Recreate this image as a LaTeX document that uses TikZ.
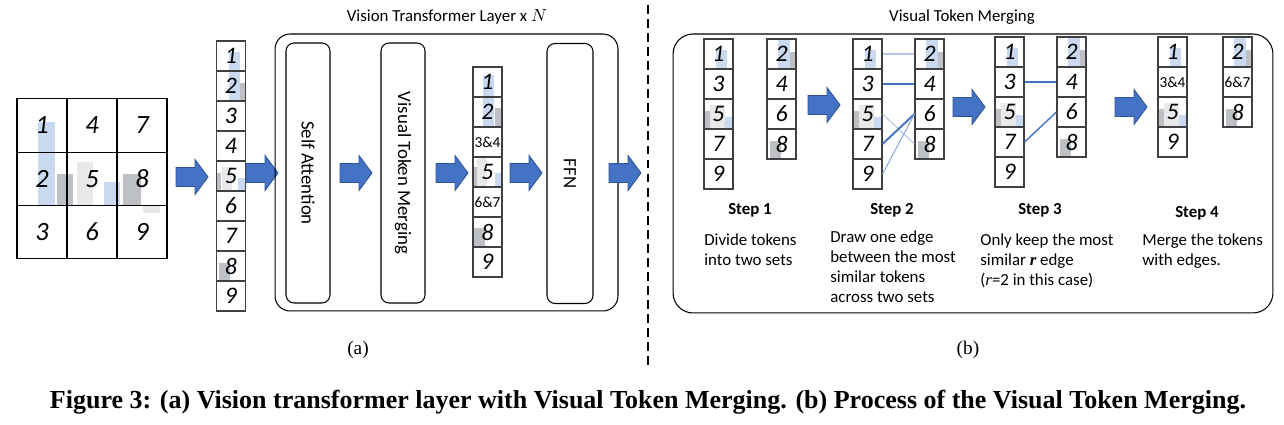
\documentclass[tikz,border=0pt]{standalone}
\usepackage{fontspec}
\setmainfont{Carlito}
\newfontfamily\capfont{Liberation Serif}
\usetikzlibrary{positioning}

\definecolor{arrblue}{HTML}{4472C4}
\definecolor{arrdark}{HTML}{2F5597}
\definecolor{barblue}{HTML}{C9D9F0}
\definecolor{bargrey}{HTML}{BDC1C5}
\definecolor{barlight}{HTML}{E9E9E9}
\definecolor{edgefaint}{HTML}{B4C7E7}
\definecolor{edgethin}{HTML}{8FAADC}

\newcommand\mrg[1]{{\upshape\fontsize{8.7}{9}\selectfont #1}}
% one column of tokens: name, x, y of first cell, labels
\newcommand\tokcol[4]{%
  \foreach \t [count=\i] in {#4}
    \node[tok] (#1\i) at (#2, #3+30*\i-30) {\t};
}

\tikzset{
  tok/.style={draw=black!75, line width=0.6pt, minimum width=0.58cm, minimum height=0.6cm,
    inner sep=0pt, font=\fontsize{13.5}{14}\selectfont\itshape},
  patch/.style={draw, line width=0.6pt, minimum width=1cm, minimum height=1.067cm,
    inner sep=0pt, font=\fontsize{15}{15}\selectfont\itshape},
  layerbox/.style={draw, line width=0.6pt, rounded corners=0.16cm, minimum height=5.2cm,
    inner sep=0pt},
  boxlabel/.style={rotate=-90, font=\fontsize{10.7}{12}\selectfont},
  title/.style={font=\fontsize{9.6}{11}\selectfont},
  steplabel/.style={font=\bfseries\fontsize{9.6}{11}\selectfont},
  steptext/.style={anchor=north west, align=left, inner sep=0pt, font=\fontsize{9.6}{11.4}\selectfont},
  edgebold/.style={draw=arrblue, line width=1.1pt},
  edgefaint/.style={draw=edgefaint, line width=0.6pt},
  edgethin/.style={draw=edgethin, line width=0.6pt},
  blockarrow/.pic={
    \filldraw[fill=arrblue, draw=arrdark, line width=0.5pt]
      (-16,-9.5) -- (3,-9.5) -- (3,-17.5) -- (16,0) -- (3,17.5) -- (3,9.5) -- (-16,9.5) -- cycle;
  },
  % chart remains behind the odd column (1 on top, 5 in third cell)
  leftshade/.pic={
    \fill[barblue] (12,11) rectangle (23,29);
    \fill[barlight] (6,66) rectangle (21,89);
    \fill[bargrey] (0,72) rectangle (6,89);
    \fill[barblue] (21,78) rectangle (29,89);
  },
  % chart remains behind the even column, #1 = cell of the 8
  rightshade/.pic={
    \fill[barblue] (11,0) rectangle (23,29);
    \fill[bargrey] (23,13) rectangle (29,29);
    \fill[bargrey] (3,30*#1+12) rectangle (14,30*#1+29);
  }
}

\begin{document}
\begin{tikzpicture}[x=0.02cm, y=-0.02cm]
\useasboundingbox (0,0) rectangle (1284,425);

% image patches (chart seen behind them)
\fill[barblue] (38,122) rectangle (55,206);
\fill[bargrey] (57,174) rectangle (73,206);
\fill[barlight] (77,162) rectangle (93,206);
\fill[barblue] (104,182) rectangle (120,206);
\fill[bargrey] (123,174) rectangle (141,206);
\fill[barlight] (143,206) rectangle (160,213);
\foreach \n in {1,...,9}{
  \pgfmathtruncatemacro{\cc}{(\n-1)/3}
  \pgfmathtruncatemacro{\rr}{mod(\n-1,3)}
  \node[patch] (p\n) at (42+50*\cc, 125.5+53.3*\rr) {\n};
}
\pic at (192,177) {blockarrow};

% flattened tokens
\fill[barblue] (229,52) rectangle (240,100);
\fill[bargrey] (240,83) rectangle (245,100);
\fill[bargrey] (217,173) rectangle (221,191);
\fill[barlight] (222,167) rectangle (232,191);
\fill[barblue] (238,178) rectangle (245,191);
\fill[bargrey] (219,263) rectangle (230,282);
\tokcol{v}{231}{56}{1,2,3,4,5,6,7,8,9}
\pic at (262,173) {blockarrow};

% (a) vision transformer layer
\node[title] (ta) at (447,17) {Vision Transformer Layer x $N$};
\node[draw, line width=0.6pt, rounded corners=0.3cm, minimum width=6.86cm, minimum height=5.54cm]
  (layer) at (446.5,172.5) {};
\node[layerbox, minimum width=0.88cm] (sa) at (308,173) {};
\node[boxlabel] at (sa) {Self Attention};
\pic at (356,173) {blockarrow};
\node[layerbox, minimum width=0.88cm] (vtm) at (403,173) {};
\node[boxlabel] at (vtm) {Visual Token Merging};
\pic at (452,173) {blockarrow};
\fill[barblue] (483,75) rectangle (494,127);
\fill[bargrey] (495,108) rectangle (502,127);
\fill[barlight] (477,158) rectangle (487,187);
\fill[bargrey] (473,167) rectangle (477,187);
\fill[barblue] (495,173) rectangle (502,187);
\fill[bargrey] (474,228) rectangle (485,247);
\tokcol{m}{487.5}{82}{1,2,\mrg{3\&4},5,\mrg{6\&7},8,9}
\pic at (526,173) {blockarrow};
\node[layerbox, minimum width=0.92cm] (ffn) at (570,173.5) {};
\node[boxlabel] at (ffn) {FFN};
\pic at (625,173) {blockarrow};

\node[font=\capfont\fontsize{11}{12}\selectfont] (la) at (358,350) {(a)};

% separator
\coordinate (dtop) at (648,5);
\coordinate (dbot) at (648,365);
\draw[line width=0.6pt, dash pattern=on 5pt off 3pt] (dtop) -- (dbot);

% (b) visual token merging
\node[title] (tb) at (962,17) {Visual Token Merging};
\node[draw, line width=0.6pt, rounded corners=0.4cm, minimum width=12cm, minimum height=5.58cm]
  (merge) at (973,173.5) {};

% step 1
\pic at (704,39) {leftshade};
\pic at (767,39) {rightshade=3};
\tokcol{s1L}{718.5}{54}{1,3,5,7,9}
\tokcol{s1R}{781.5}{54}{2,4,6,8}
\pic at (824,105) {blockarrow};
% step 2
\pic at (853,39) {leftshade};
\pic at (915,39) {rightshade=3};
\tokcol{s2L}{867.5}{54}{1,3,5,7,9}
\tokcol{s2R}{929.5}{54}{2,4,6,8}
\draw[edgefaint] (s2L1.east) -- (s2R1.west);
\draw[edgebold] (s2L2.east) -- (s2R2.west);
\draw[edgefaint] (s2L3.east) -- (s2R4.west);
\draw[edgebold] (s2L4.east) -- (s2R3.west);
\draw[edgethin] (s2L5.east) -- (s2R3.west);
\pic at (969,107) {blockarrow};
% step 3
\pic at (995,37) {leftshade};
\pic at (1057,37) {rightshade=3};
\tokcol{s3L}{1009.5}{52}{1,3,5,7,9}
\tokcol{s3R}{1071.5}{52}{2,4,6,8}
\draw[edgebold, line width=0.8pt] (s3L2.east) -- (s3R2.west);
\draw[edgebold, line width=0.8pt] (s3L4.east) -- (s3R3.west);
\pic at (1131,107) {blockarrow};
% step 4
\pic at (1158,37) {leftshade};
\pic at (1223,37) {rightshade=2};
\tokcol{s4L}{1172.5}{52}{1,\mrg{3\&4},5,9}
\tokcol{s4R}{1237.5}{52}{2,\mrg{6\&7},8}

\node[steplabel] (st1) at (750,210) {Step 1};
\node[steplabel] (st2) at (892,210) {Step 2};
\node[steplabel] (st3) at (1040,210) {Step 3};
\node[steplabel] (st4) at (1197,213) {Step 4};
\node[steptext] (d1) at (704,233) {Divide tokens\\into two sets};
\node[steptext] (d2) at (830,230) {Draw one edge\\between the most\\similar tokens\\across two sets};
\node[steptext] (d3) at (980,233) {Only keep the most\\similar {\capfont\bfseries\itshape r} edge\\({\capfont\itshape r}=2 in this case)};
\node[steptext] (d4) at (1142,233) {Merge the tokens\\with edges.};

\node[font=\capfont\fontsize{11}{12}\selectfont] (lb) at (968,350) {(b)};

\node[font=\capfont\bfseries\fontsize{14.8}{16}\selectfont] (cap) at (648,402)
  {Figure 3: (a) Vision transformer layer with Visual Token Merging. (b) Process of the Visual Token Merging.};
\end{tikzpicture}
\end{document}
